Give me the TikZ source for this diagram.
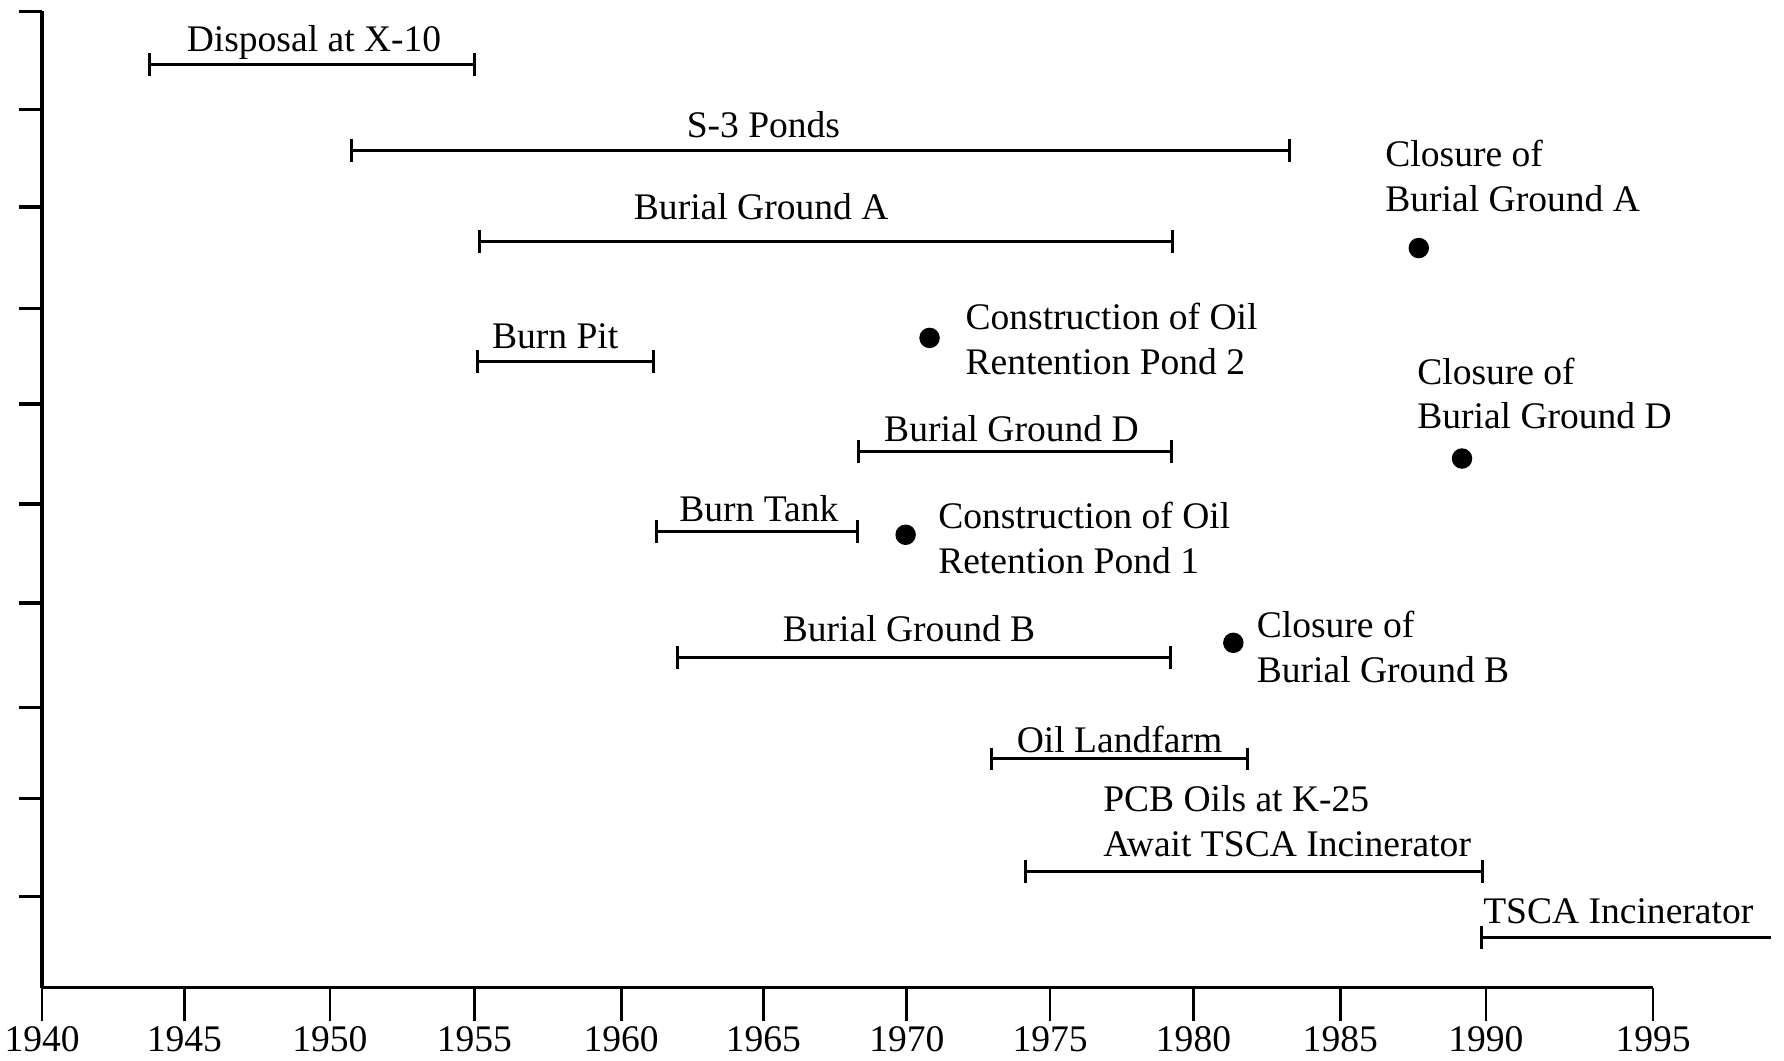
\documentclass[tikz,border=0pt]{standalone}
\usepackage{fontspec}
\setmainfont{Liberation Serif}
\usetikzlibrary{arrows.meta}
\begin{document}
\begin{tikzpicture}[x=0.3pt,y=-0.3pt,
  axis/.style={line width=0.9pt},
  ytick/.style={line width=0.9pt},
  xtick/.style={line width=0.7pt},
  bar/.style={line width=0.8pt,{Bar[width=6pt,line width=0.8pt]}-{Bar[width=6pt,line width=0.8pt]}},
  openbar/.style={line width=0.8pt,{Bar[width=6pt,line width=0.8pt]}-},
  lbl/.style={inner sep=0pt,anchor=base,font=\fontsize{9.9}{11.8}\selectfont},
  txt/.style={inner sep=0pt,anchor=base west,align=left,font=\fontsize{9.9}{11.8}\selectfont},
  yr/.style={inner sep=0pt,anchor=base,font=\fontsize{9.9}{11.8}\selectfont},
  dot/.style={circle,fill=black,inner sep=0pt,minimum size=5.4pt}]
\useasboundingbox (0,0) rectangle (1568,932);
% axes
\coordinate (ytop) at (37,10);
\coordinate (orig) at (37,868);
\coordinate (xend) at (1453,868);
\draw[axis] (ytop) -- (orig);
\draw[axis] (orig) -- (xend);
% y ticks
\foreach \yy [count=\i] in {10,96,182,271,355,443,530,622,702,788}{
  \coordinate (yt\i a) at (17,\yy);
  \coordinate (yt\i b) at (37,\yy);
  \draw[ytick] (yt\i a) -- (yt\i b);
}
% x ticks and labels
\foreach \xx/\lab in {37/1940,162/1945,290/1950,417/1955,546/1960,671/1965,797/1970,923/1975,1049/1980,1178/1985,1306/1990,1453/1995}{
  \coordinate (xt\lab a) at (\xx,868);
  \coordinate (xt\lab b) at (\xx,897);
  \draw[xtick] (xt\lab a) -- (xt\lab b);
  \node[yr] (y\lab) at (\xx,924) {\lab};
}
% bars
\coordinate (b1a) at (130,57);  \coordinate (b1b) at (418,57);
\draw[bar] (b1a) -- (b1b);
\node[lbl] (l1) at (276,45) {Disposal at X-10};
\coordinate (b2a) at (308,132); \coordinate (b2b) at (1135,132);
\draw[bar] (b2a) -- (b2b);
\node[lbl] (l2) at (671,121) {S-3 Ponds};
\coordinate (b3a) at (420,212); \coordinate (b3b) at (1032,212);
\draw[bar] (b3a) -- (b3b);
\node[lbl] (l3) at (669,193) {Burial Ground A};
\coordinate (b4a) at (418,318); \coordinate (b4b) at (576,318);
\draw[bar] (b4a) -- (b4b);
\node[lbl] (l4) at (488,306) {Burn Pit};
\coordinate (b5a) at (753,397); \coordinate (b5b) at (1031,397);
\draw[bar] (b5a) -- (b5b);
\node[lbl] (l5) at (889,388) {Burial Ground D};
\coordinate (b6a) at (576,467); \coordinate (b6b) at (755,467);
\draw[bar] (b6a) -- (b6b);
\node[lbl] (l6) at (667,458) {Burn Tank};
\coordinate (b7a) at (594,578); \coordinate (b7b) at (1030,578);
\draw[bar] (b7a) -- (b7b);
\node[lbl] (l7) at (799,564) {Burial Ground B};
\coordinate (b8a) at (870,667); \coordinate (b8b) at (1098,667);
\draw[bar] (b8a) -- (b8b);
\node[lbl] (l8) at (984,661) {Oil Landfarm};
\coordinate (b9a) at (900,766); \coordinate (b9b) at (1304,766);
\draw[bar] (b9a) -- (b9b);
\node[txt] (l9) at (969,753) {PCB Oils at K-25\\Await TSCA Incinerator};
\coordinate (b10a) at (1301,824); \coordinate (b10b) at (1557,824);
\draw[openbar] (b10a) -- (b10b);
\node[txt] (l10) at (1303,812) {TSCA Incinerator};
% events
\node[dot] (dA) at (1247,218) {};
\node[txt] (tA) at (1217,186) {Closure of\\Burial Ground A};
\node[dot] (dP2) at (817,297) {};
\node[txt] (tP2) at (848,329) {Construction of Oil\\Rentention Pond 2};
\node[dot] (dD) at (1285,403) {};
\node[txt] (tD) at (1245,377) {Closure of\\Burial Ground D};
\node[dot] (dP1) at (796,470) {};
\node[txt] (tP1) at (824,504) {Construction of Oil\\Retention Pond 1};
\node[dot] (dB) at (1084,565) {};
\node[txt] (tB) at (1104,600) {Closure of\\Burial Ground B};
\end{tikzpicture}
\end{document}
